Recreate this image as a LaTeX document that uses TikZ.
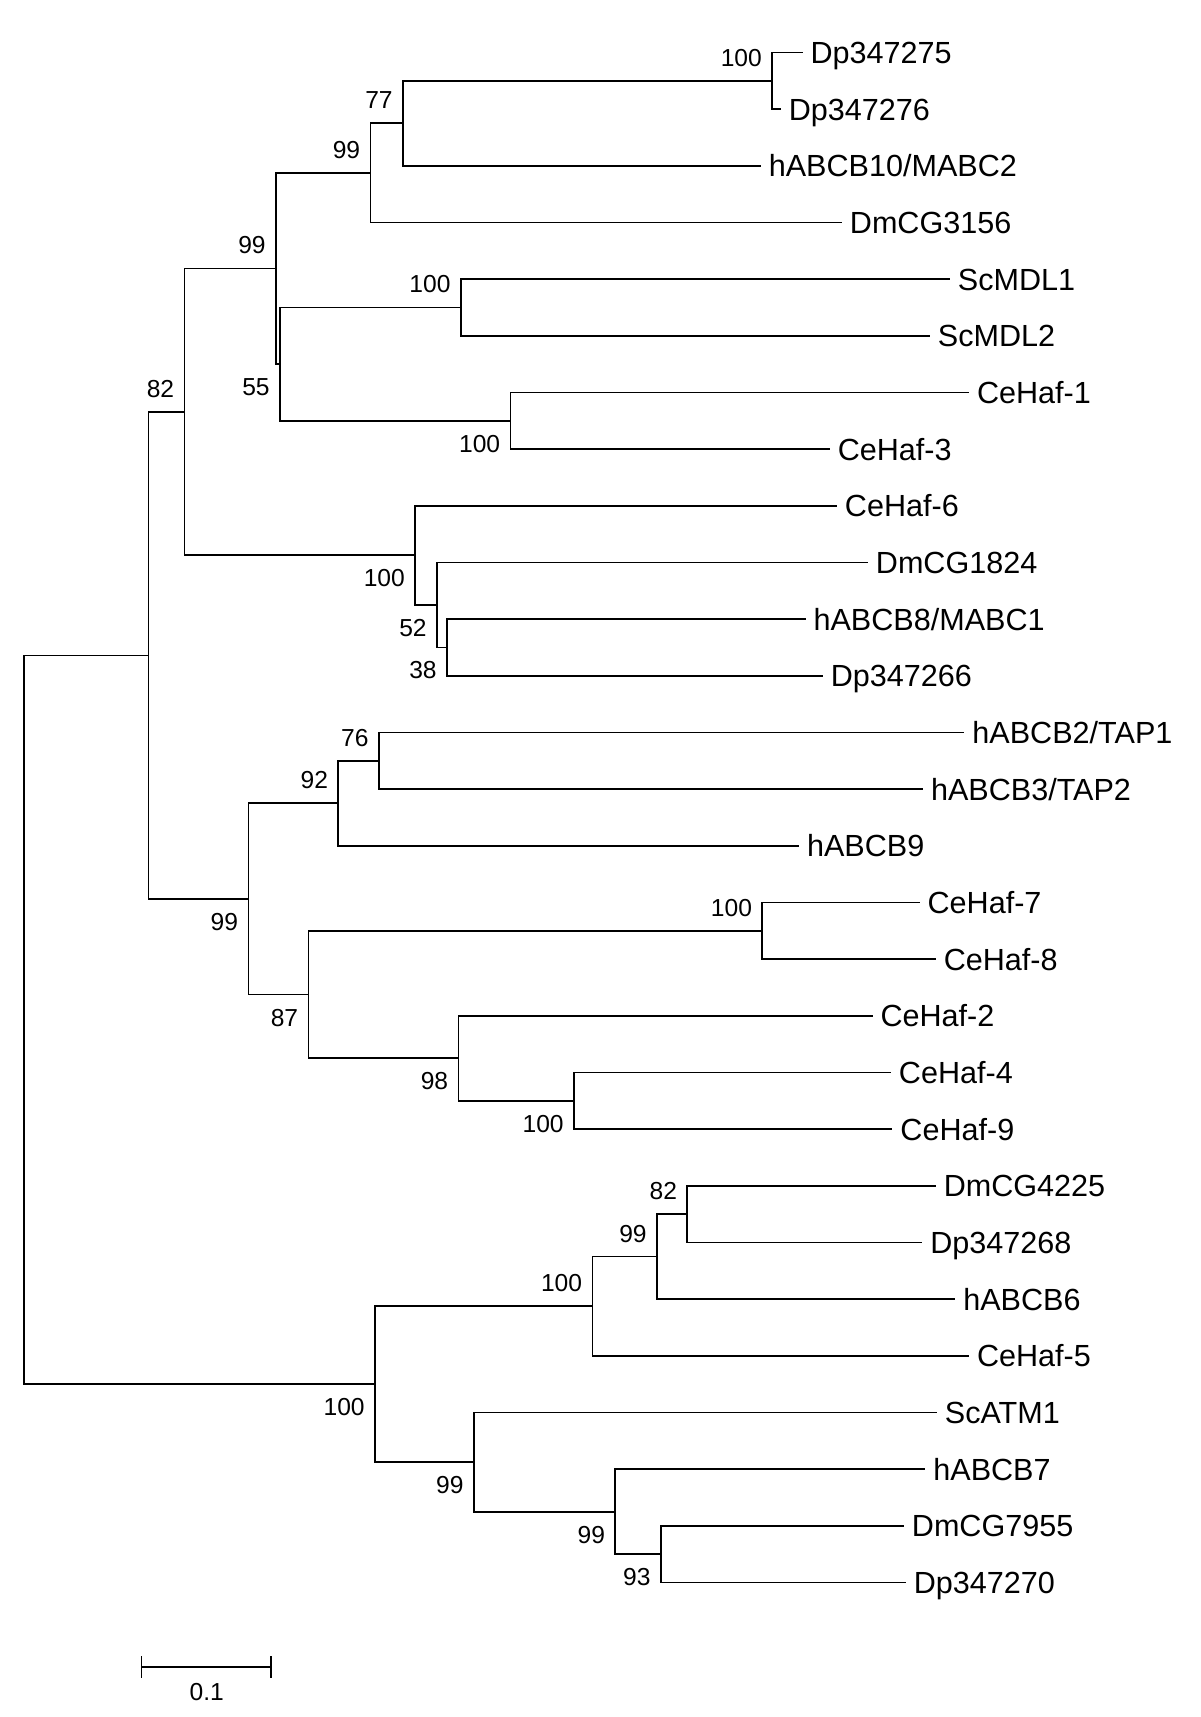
\documentclass[tikz,border=0pt]{standalone}
\usepackage{fontspec}
\setmainfont{Liberation Sans}
\usetikzlibrary{positioning}

\tikzset{
  branch/.style={line width=1pt, line cap=rect},
  taxon/.style={anchor=base west, inner sep=0pt, xshift=0.17cm, yshift=-0.22cm,
                font=\fontsize{17.4}{20}\selectfont},
  boot/.style={anchor=east, inner sep=0pt, xshift=-0.2cm, font=\fontsize{14}{16}\selectfont},
  bsa/.style={boot, yshift=0.46cm},
  bsb/.style={boot, yshift=-0.46cm}
}

\begin{document}
\begin{tikzpicture}[x=0.02cm, y=-0.02cm]
\useasboundingbox (0,0) rectangle (1200,1717);

% leaves: tip x of each branch, spaced evenly down the page
\foreach \lab/\xe [count=\i from 0] in {Dp347275/801.7, Dp347276/779.9,
    {hABCB10/MABC2}/760, DmCG3156/841.1, ScMDL1/949, ScMDL2/929.1,
    CeHaf-1/968.2, CeHaf-3/828.9, CeHaf-6/836.1, DmCG1824/867.1,
    {hABCB8/MABC1}/804.7, Dp347266/822, {hABCB2/TAP1}/963.6,
    {hABCB3/TAP2}/922.2, hABCB9/798.2, CeHaf-7/918.8, CeHaf-8/934.9,
    CeHaf-2/871.7, CeHaf-4/890.1, CeHaf-9/891.6, DmCG4225/934.9,
    Dp347268/921.5, hABCB6/954.4, CeHaf-5/968.2, ScATM1/936,
    hABCB7/924.5, DmCG7955/903.1, Dp347270/905} {
  \coordinate (l\i) at (\xe, {52.4+56.67*\i});
  \node [taxon] (t\i) at (l\i) {\lab};
}

% internal nodes
\coordinate (n1)  at (772.2, 80.75);
\coordinate (n2)  at (403,   123.2);
\coordinate (n3)  at (370.5, 172.8);
\coordinate (n4)  at (460.8, 307.45);
\coordinate (n5)  at (510.5, 420.75);
\coordinate (n6)  at (280,   364.1);
\coordinate (n7)  at (276,   268.45);
\coordinate (n8)  at (447,   647.45);
\coordinate (n9)  at (437,   604.9);
\coordinate (n10) at (415.2, 555.35);
\coordinate (n11) at (184.5, 411.9);
\coordinate (n12) at (378.9, 760.75);
\coordinate (n13) at (338.3, 803.3);
\coordinate (n14) at (762.3, 930.8);
\coordinate (n15) at (574,   1100.8);
\coordinate (n16) at (458.5, 1058.3);
\coordinate (n17) at (308.5, 994.55);
\coordinate (n18) at (248.4, 898.9);
\coordinate (n19) at (148.5, 655.4);
\coordinate (n21) at (687.3, 1214.15);
\coordinate (n22) at (657,   1256.6);
\coordinate (n23) at (592.4, 1306.2);
\coordinate (n24) at (660.9, 1554.15);
\coordinate (n25) at (615.3, 1511.7);
\coordinate (n26) at (473.8, 1462.1);
\coordinate (n27) at (375,   1384.15);
\coordinate (root) at (23.7, 1019.8);

% branches
\foreach \p/\c in {n1/l0, n1/l1, n2/n1, n2/l2, n3/n2, n3/l3, n4/l4, n4/l5,
    n5/l6, n5/l7, n6/n4, n6/n5, n7/n3, n7/n6, n8/l10, n8/l11, n9/l9, n9/n8,
    n10/l8, n10/n9, n11/n7, n11/n10, n12/l12, n12/l13, n13/n12, n13/l14,
    n14/l15, n14/l16, n15/l18, n15/l19, n16/l17, n16/n15, n17/n14, n17/n16,
    n18/n13, n18/n17, n19/n11, n19/n18, n21/l20, n21/l21, n22/n21, n22/l22,
    n23/n22, n23/l23, n24/l26, n24/l27, n25/l25, n25/n24, n26/l24, n26/n25,
    n27/n23, n27/n26, root/n19, root/n27}
  \draw [branch] (\p) |- (\c);

% bootstrap values
\node [bsa] (b1)  at (n1)  {100};
\node [bsa] (b2)  at (n2)  {77};
\node [bsa] (b3)  at (n3)  {99};
\node [bsa] (b4)  at (n4)  {100};
\node [bsb] (b5)  at (n5)  {100};
\node [bsb] (b6)  at (n6)  {55};
\node [bsa] (b7)  at (n7)  {99};
\node [bsb] (b8)  at (n8)  {38};
\node [bsb] (b9)  at (n9)  {52};
\node [bsb] (b10) at (n10) {100};
\node [bsa] (b11) at (n11) {82};
\node [bsa] (b12) at (n12) {76};
\node [bsa] (b13) at (n13) {92};
\node [bsa] (b14) at (n14) {100};
\node [bsb] (b15) at (n15) {100};
\node [bsb] (b16) at (n16) {98};
\node [bsb] (b17) at (n17) {87};
\node [bsb] (b18) at (n18) {99};
\node [bsa] (b21) at (n21) {82};
\node [bsa] (b22) at (n22) {99};
\node [bsa] (b23) at (n23) {100};
\node [bsb] (b24) at (n24) {93};
\node [bsb] (b25) at (n25) {99};
\node [bsb] (b26) at (n26) {99};
\node [bsb] (b27) at (n27) {100};

% scale bar
\coordinate (sbl) at (141.6,1667.2);
\coordinate (sbr) at (271.3,1667.2);
\draw [branch] (sbl) -- (sbr);
\draw [branch] ([yshift=0.2cm]sbl) -- ([yshift=-0.2cm]sbl);
\draw [branch] ([yshift=0.2cm]sbr) -- ([yshift=-0.2cm]sbr);
\node [font=\fontsize{14}{16}\selectfont, inner sep=0pt] (sblab) at (206.7,1692.5) {0.1};
\end{tikzpicture}
\end{document}
